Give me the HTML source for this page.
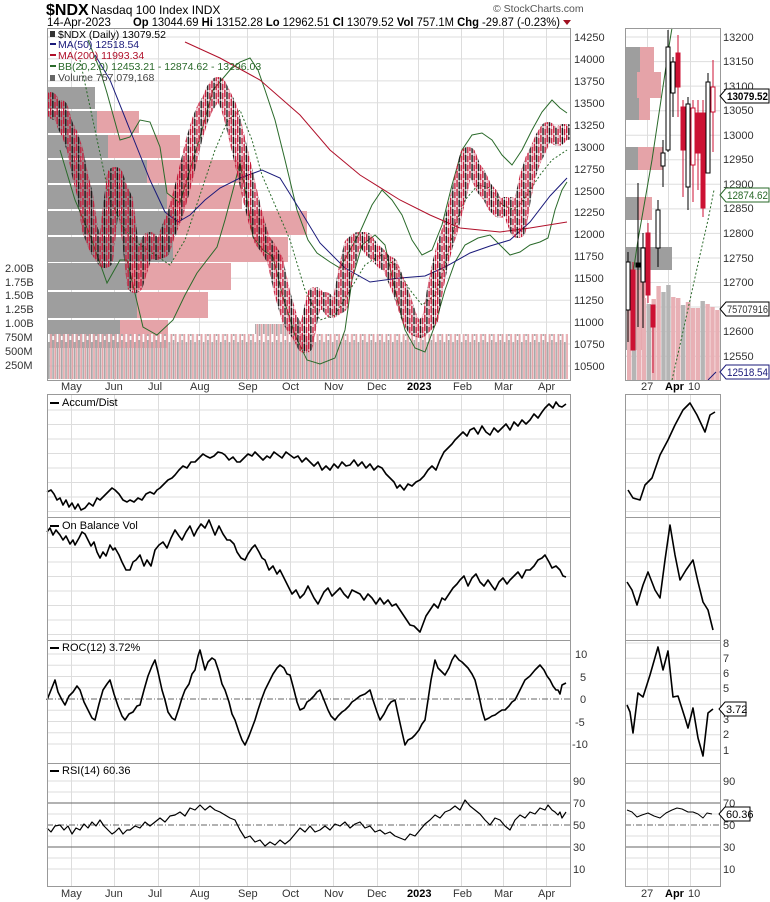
<!DOCTYPE html>
<html><head><meta charset="utf-8">
<style>
html,body{margin:0;padding:0;background:#fff;}
svg{display:block;font-family:"Liberation Sans",sans-serif;}
.ax{font-size:11px;fill:#333;}
.lg{font-size:10.5px;}
</style></head>
<body>
<svg width="770" height="902" viewBox="0 0 770 902" xmlns="http://www.w3.org/2000/svg">
<defs>
<pattern id="vp" patternUnits="userSpaceOnUse" width="4.3" height="10" x="48" y="0">
<rect x="0" y="0" width="1.7" height="10" fill="#a8a8a8"/><rect x="2.15" y="0" width="1.7" height="10" fill="#e5a3a8"/>
</pattern>
<pattern id="vp2" patternUnits="userSpaceOnUse" width="8.6" height="10" x="48" y="0">
<rect x="0" y="0" width="1.7" height="10" fill="#fff"/><rect x="4.3" y="6" width="1.7" height="4" fill="#fff"/>
</pattern>
<pattern id="cp" patternUnits="userSpaceOnUse" width="6.45" height="9" x="50" y="0">
<rect x="0" y="0" width="1.4" height="7" fill="#c41535"/><rect x="0.45" y="0" width="0.5" height="9" fill="#c41535"/>
<rect x="2.15" y="2" width="1.4" height="7" fill="#111"/><rect x="2.6" y="0" width="0.5" height="9" fill="#111"/>
<rect x="4.3" y="3" width="1.4" height="6" fill="#c41535"/><rect x="4.75" y="0" width="0.5" height="9" fill="#c41535"/>
</pattern>
<mask id="pm" maskUnits="userSpaceOnUse" x="0" y="0" width="770" height="902">
<polyline fill="none" stroke="#fff" stroke-width="16" stroke-linejoin="round" stroke-linecap="round" points="50,100 55,112 60,108 65,125 70,135 75,150 80,175 85,195 90,230 97,248 105,260 110,215 115,175 120,190 125,200 130,240 135,285 142,262 150,240 156,252 162,250 168,232 175,215 182,190 188,165 194,140 200,120 205,108 210,100 214,90 218,85 223,95 228,105 232,118 235,130 242,160 250,195 256,220 262,240 268,248 275,260 282,292 290,320 295,328 300,335 305,345 310,318 315,295 320,302 325,300 332,310 340,305 346,272 352,245 358,240 365,240 372,250 378,255 384,262 390,265 395,278 400,290 405,305 410,320 415,328 420,330 425,325 430,320 435,290 440,265 445,245 450,230 455,210 460,190 464,170 468,155 473,168 478,175 484,188 490,195 495,205 500,210 505,205 510,205 514,220 518,230 523,198 528,175 533,160 538,150 543,138 548,130 553,135 558,138 563,132 567,132"/>
</mask>
</defs>
<rect width="770" height="902" fill="#fff"/>
<!-- grids -->
<g stroke="#ddd" stroke-width="1" fill="none">
<path d="M71.5,28V380M114.5,28V380M158.5,28V380M199.5,28V380M247.5,28V380M290.5,28V380M333.5,28V380M377.5,28V380M418.5,28V380M461.5,28V380M503.5,28V380M546.5,28V380M647.5,28V380M668.5,28V380M690.5,28V380"/>
<path d="M71.5,394V887M114.5,394V887M158.5,394V887M199.5,394V887M247.5,394V887M290.5,394V887M333.5,394V887M377.5,394V887M418.5,394V887M461.5,394V887M503.5,394V887M546.5,394V887M647.5,394V887M668.5,394V887M690.5,394V887"/>
<path d="M47,37H570M47,58.9H570M47,80.9H570M47,102.8H570M47,124.7H570M47,146.7H570M47,168.6H570M47,190.5H570M47,212.4H570M47,234.4H570M47,256.3H570M47,278.2H570M47,300.2H570M47,322.1H570M47,344H570M47,366H570"/>
<path d="M625,37H720M625,61.6H720M625,86.1H720M625,110.7H720M625,135.2H720M625,159.8H720M625,184.3H720M625,208.9H720M625,233.4H720M625,258H720M625,282.5H720M625,307H720M625,331.6H720M625,356.2H720"/>
<path d="M47,410H570M47,424.5H570M47,439H570M47,453.5H570M47,468H570M47,482.5H570M47,497H570M47,511.5H570M47,533H570M47,547.5H570M47,562H570M47,576.5H570M47,591H570M47,605.5H570M47,620H570M47,634.5H570"/>
<path d="M625,410H720M625,424.5H720M625,439H720M625,453.5H720M625,468H720M625,482.5H720M625,497H720M625,511.5H720M625,533H720M625,547.5H720M625,562H720M625,576.5H720M625,591H720M625,605.5H720M625,620H720M625,634.5H720"/>
<path d="M47,654H570M47,665.3H570M47,676.5H570M47,687.8H570M47,710.3H570M47,721.5H570M47,732.8H570M47,744H570"/>
<path d="M625,643H720M625,658.3H720M625,673.6H720M625,688.9H720M625,704.2H720M625,719.5H720M625,734.8H720M625,750.1H720"/>
<path d="M47,781H570M47,792H570M47,814H570M47,836H570M47,858H570M47,869H570M625,781H720M625,792H720M625,814H720M625,836H720M625,858H720M625,869H720"/>
</g>
<g stroke="#666" stroke-width="1" fill="none">
<path d="M47,803H570M47,847H570M625,803H720M625,847H720"/>
<path d="M47,825H570M625,825H720M47,699H570" stroke-dasharray="6,2,1,2"/>
</g>
<!-- volume by price -->
<g fill="#e5a3a8">
<rect x="47" y="87" width="48" height="22"/><rect x="47" y="111" width="92" height="22"/><rect x="47" y="135" width="133" height="23"/><rect x="47" y="160" width="198" height="23"/><rect x="47" y="185" width="195" height="24"/><rect x="47" y="211" width="260" height="24"/><rect x="47" y="237" width="241" height="25"/><rect x="47" y="263" width="184" height="27"/><rect x="47" y="292" width="161" height="26"/><rect x="47" y="320" width="121" height="28"/>
<rect x="626" y="47" width="28" height="25"/><rect x="626" y="72" width="35" height="26"/><rect x="626" y="98" width="24" height="22"/><rect x="626" y="147" width="37" height="23"/><rect x="626" y="197" width="26" height="23"/><rect x="626" y="270" width="19" height="80"/>
</g>
<g fill="#9e9e9e">
<rect x="47" y="87" width="48" height="22"/><rect x="47" y="111" width="50" height="22"/><rect x="47" y="135" width="61" height="23"/><rect x="47" y="160" width="100" height="23"/><rect x="47" y="185" width="120" height="24"/><rect x="47" y="211" width="130" height="24"/><rect x="47" y="237" width="126" height="25"/><rect x="47" y="263" width="83" height="27"/><rect x="47" y="292" width="90" height="26"/><rect x="47" y="320" width="73" height="28"/>
<rect x="626" y="47" width="14" height="25"/><rect x="626" y="72" width="11" height="26"/><rect x="626" y="98" width="13" height="22"/><rect x="626" y="147" width="12" height="23"/><rect x="626" y="197" width="12" height="23"/><rect x="626" y="247" width="46" height="23"/><rect x="626" y="270" width="4" height="80"/>
</g>
<!-- volume -->
<rect x="48" y="334" width="520" height="45" fill="url(#vp)"/>
<rect x="48" y="334" width="520" height="8" fill="url(#vp2)"/>
<path d="M255,334h45v-10h-45z" fill="url(#vp)"/>
<g>
<rect x="627" y="295" width="4.4" height="85" fill="#e8b0b5"/><rect x="631.9" y="300" width="4.4" height="80" fill="#b5b5b5"/><rect x="636.8" y="290" width="4.4" height="90" fill="#e8b0b5"/><rect x="641.7" y="298" width="4.4" height="82" fill="#e8b0b5"/><rect x="646.6" y="304" width="4.4" height="76" fill="#b5b5b5"/><rect x="651.5" y="299" width="4.4" height="81" fill="#e8b0b5"/><rect x="656.4" y="286" width="4.4" height="94" fill="#e8b0b5"/><rect x="661.3" y="292" width="4.4" height="88" fill="#b5b5b5"/><rect x="666.2" y="285" width="4.4" height="95" fill="#b5b5b5"/><rect x="671.1" y="297" width="4.4" height="83" fill="#e8b0b5"/><rect x="676" y="298" width="4.4" height="82" fill="#e8b0b5"/><rect x="680.9" y="305" width="4.4" height="75" fill="#b5b5b5"/><rect x="685.8" y="302" width="4.4" height="78" fill="#e8b0b5"/><rect x="690.7" y="308" width="4.4" height="72" fill="#e8b0b5"/><rect x="695.6" y="308" width="4.4" height="72" fill="#e8b0b5"/><rect x="700.5" y="301" width="4.4" height="79" fill="#b5b5b5"/><rect x="705.4" y="304" width="4.4" height="76" fill="#e8b0b5"/><rect x="710.3" y="307" width="4.4" height="73" fill="#e8b0b5"/><rect x="715.2" y="310" width="4.4" height="70" fill="#e8b0b5"/>
</g>
<!-- BB, MAs -->
<g fill="none" stroke-width="1">
<polyline stroke="#2a6a2a" points="88,40 100,70 107,93 120,140 130,137 140,120 150,122 160,147 167,193 180,203 193,160 200,137 213,90 230,70 240,62 250,58 258,70 265,90 275,120 285,160 297,210 308,240 317,253 330,262 340,268 350,250 360,232 372,205 382,190 392,200 402,215 412,240 422,255 432,250 442,225 452,185 462,150 472,135 482,133 492,140 502,155 512,165 522,150 532,130 542,112 552,100 560,108 567,113"/>
<polyline stroke="#2a6a2a" points="60,150 75,200 90,235 107,283 120,260 127,260 143,327 157,335 173,320 185,295 197,273 217,247 225,220 233,190 240,163 247,200 253,237 263,250 273,257 283,297 295,335 307,360 320,364 335,358 345,330 352,280 362,245 375,235 385,245 395,290 405,330 415,348 425,352 435,325 445,290 455,262 465,245 478,238 490,235 500,245 510,255 520,252 530,245 540,242 548,238 555,210 562,190 567,182"/>
<polyline stroke="#2a6a2a" stroke-dasharray="2,2" points="80,60 95,130 110,200 125,230 140,245 155,255 170,265 185,240 200,195 215,150 228,120 240,110 252,140 262,175 275,205 290,240 305,290 320,320 335,315 350,290 365,265 380,255 395,265 410,290 422,305 435,295 445,265 455,225 465,200 478,185 490,188 502,205 515,210 527,195 540,175 552,160 567,150"/>
<polyline stroke="#1a1a7a" points="95,55 110,80 130,130 150,180 165,212 178,222 190,215 205,200 220,188 240,178 262,170 280,178 300,210 320,243 345,268 370,282 400,278 425,276 445,267 470,253 490,246 510,240 530,222 550,196 567,178"/>
<polyline stroke="#b0102a" points="185,42 220,58 260,80 300,115 330,150 360,175 400,200 430,215 460,228 500,232 530,228 567,222"/>
</g>
<!-- price candles (texture) -->
<rect x="47" y="60" width="523" height="300" fill="url(#cp)" mask="url(#pm)"/>
<!-- right BB / MA -->
<g fill="none" stroke-width="1">
<polyline stroke="#2a6a2a" points="628,310 632,280 638,240 645,200 652,160 658,120 664,80 670,40 672,28"/>
<polyline stroke="#2a6a2a" stroke-dasharray="2,2" points="672,380 680,345 690,300 700,255 708,220 714,190"/>
<polyline stroke="#1a1a7a" points="708,380 716,372"/>
</g>
<!-- right candles -->
<g stroke-width="1">
<g stroke="#000"><line x1="628" x2="628" y1="252" y2="342"/><line x1="638" x2="638" y1="183" y2="327"/><line x1="643" x2="643" y1="233" y2="328"/><line x1="658" x2="658" y1="200" y2="267"/><line x1="663" x2="663" y1="140" y2="187"/><line x1="668" x2="668" y1="30" y2="152"/><line x1="673" x2="673" y1="57" y2="117"/><line x1="688" x2="688" y1="97" y2="210"/><line x1="708" x2="708" y1="73" y2="173"/></g>
<g stroke="#cc1133"><line x1="633" x2="633" y1="262" y2="350"/><line x1="648" x2="648" y1="223" y2="303"/><line x1="653" x2="653" y1="305" y2="373"/><line x1="678" x2="678" y1="35" y2="117"/><line x1="683" x2="683" y1="100" y2="197"/><line x1="693" x2="693" y1="100" y2="202"/><line x1="698" x2="698" y1="100" y2="190"/><line x1="703" x2="703" y1="100" y2="217"/><line x1="713" x2="713" y1="60" y2="152"/></g>
<g fill="#fff" stroke="#000"><rect x="626" y="262" width="4" height="48"/><rect x="641" y="248" width="4" height="34"/><rect x="656" y="210" width="4" height="38"/><rect x="661" y="153" width="4" height="13"/><rect x="666" y="47" width="4" height="103"/><rect x="671" y="62" width="4" height="31"/><rect x="686" y="104" width="4" height="83"/><rect x="706" y="82" width="4" height="91"/></g>
<rect x="636" y="263" width="4" height="4" fill="#000" stroke="#000"/>
<g fill="#cc1133" stroke="#cc1133"><rect x="631" y="270" width="4" height="80"/><rect x="646" y="233" width="4" height="62"/><rect x="651" y="305" width="4" height="22"/><rect x="676" y="53" width="4" height="34"/><rect x="681" y="107" width="4" height="43"/><rect x="696" y="113" width="4" height="40"/><rect x="701" y="113" width="4" height="95"/></g>
<g fill="#fff" stroke="#cc1133"><rect x="691" y="108" width="4" height="57"/><rect x="711" y="87" width="4" height="25"/></g>
</g>
<!-- indicator lines main -->
<g fill="none" stroke="#000" stroke-linejoin="round">
<polyline stroke-width="1.6" points="47,492 51,490 54,494 57,500 60,498 63,505 66,500 69,507 72,503 75,509 78,504 81,510 85,508 89,503 93,506 97,498 100,500 104,496 108,492 112,488 115,490 119,494 123,500 127,502 130,500 134,502 138,498 142,500 146,494 150,492 154,494 157,490 160,488 164,484 168,480 172,478 175,475 179,470 183,466 187,468 191,462 195,462 199,458 203,454 206,456 210,458 214,456 218,452 222,453 225,455 229,460 233,457 237,462 240,462 244,458 248,454 252,456 255,452 259,456 263,460 267,456 270,458 274,452 278,455 282,458 286,452 290,455 294,458 298,456 302,462 306,458 310,462 314,466 318,462 322,470 326,466 330,470 334,464 338,468 342,462 346,466 350,465 354,460 358,466 362,462 366,468 370,464 374,470 378,466 382,468 386,474 390,478 394,482 397,488 400,485 404,490 408,484 412,486 416,482 420,480 424,476 428,470 432,466 436,470 440,460 444,452 448,448 452,444 455,440 459,436 463,432 467,436 470,430 474,428 478,434 482,426 486,432 490,435 494,428 498,432 502,428 506,424 510,430 514,422 518,426 522,420 526,424 530,420 534,414 538,418 542,412 545,408 549,404 553,408 556,402 559,406 562,407 566,404"/>
<polyline stroke-width="1.6" points="47,532 50,528 53,535 56,530 60,535 63,540 66,536 70,544 73,540 75,545 79,538 82,532 85,534 88,540 91,546 94,542 97,552 100,558 103,552 106,556 110,545 113,550 115,548 119,555 122,562 126,570 130,570 133,562 136,560 140,555 144,566 147,560 151,566 155,550 159,545 163,542 167,548 171,538 175,530 179,536 182,540 186,532 190,526 194,536 197,530 201,524 205,528 209,520 213,530 215,535 219,526 223,534 227,540 230,540 234,544 237,552 241,558 245,560 248,554 252,548 255,545 259,552 262,558 265,560 269,570 273,566 277,574 280,570 284,578 288,586 292,594 296,590 300,598 304,594 308,586 310,590 314,598 318,604 320,600 324,592 328,588 332,596 336,592 340,588 344,594 348,598 352,590 356,592 360,594 364,600 368,594 372,598 376,604 380,598 384,604 388,600 392,606 396,604 400,610 404,616 408,622 410,625 414,626 418,630 420,632 423,624 426,616 430,610 434,604 438,608 442,598 445,600 449,594 453,588 457,584 460,580 464,576 468,586 472,578 476,574 480,582 484,586 488,580 492,586 495,590 499,582 503,578 507,584 510,580 514,576 518,572 522,578 526,570 530,570 534,566 538,560 542,558 545,555 549,562 552,568 556,566 560,570 563,576 566,577"/>
<polyline stroke-width="1.6" points="47,700 51,690 55,680 58,692 62,700 65,705 69,696 73,692 77,686 80,690 84,702 88,710 92,718 95,720 99,704 103,690 107,684 110,680 114,694 118,706 122,716 125,720 129,714 133,712 137,706 140,705 144,690 148,676 152,666 155,660 158,672 162,690 165,700 168,712 172,718 175,720 179,708 182,698 185,690 189,684 192,674 195,670 198,656 200,650 203,662 205,670 208,662 212,658 215,660 219,672 222,684 225,690 229,702 232,714 235,720 239,732 242,740 245,745 249,736 252,728 255,720 258,710 262,698 265,690 269,682 273,674 277,668 280,665 284,668 287,674 290,675 294,690 297,702 300,710 304,708 307,702 310,700 314,696 317,692 320,690 324,700 328,710 331,716 335,720 338,716 342,712 345,710 349,706 352,702 355,700 360,696 365,694 370,690 373,700 377,712 380,720 384,714 388,706 391,702 395,700 398,714 402,732 405,745 408,740 412,738 415,735 419,730 422,724 425,720 428,700 431,680 435,660 438,668 442,672 445,675 449,668 452,660 455,655 459,660 462,662 465,665 468,668 472,674 475,680 479,696 482,710 485,720 489,718 492,716 495,715 499,712 502,710 505,710 509,706 512,702 515,700 519,692 522,686 525,680 530,676 535,670 540,665 544,670 547,676 550,680 553,686 556,690 558,690 560,694 562,685 566,683"/>
<polyline stroke-width="1.2" points="47,828 51,832 55,826 60,825 64,830 68,826 72,834 76,828 80,830 84,824 88,828 92,822 96,826 100,820 104,826 108,830 112,834 115,832 119,828 123,834 127,830 130,830 135,826 140,828 145,822 150,826 155,822 160,818 165,822 170,816 175,815 180,812 185,816 190,808 195,810 200,805 205,810 210,806 215,810 220,812 225,815 230,818 235,820 240,830 245,838 250,836 255,842 260,840 265,846 270,842 275,845 280,840 285,844 290,840 295,834 300,828 305,832 310,826 315,832 320,830 325,826 330,830 335,824 340,826 345,822 350,828 355,824 360,822 365,828 370,826 375,832 380,830 385,834 390,832 395,836 400,838 405,840 410,834 415,836 420,830 425,824 430,820 435,815 440,818 445,812 450,810 455,806 460,810 465,800 470,806 475,810 480,814 485,820 490,825 495,818 500,820 505,826 510,830 515,820 520,815 525,818 530,812 535,814 540,808 545,810 548,805 552,810 555,812 558,815 560,812 562,818 566,812"/>
</g>
<!-- right indicator lines -->
<g fill="none" stroke="#000" stroke-linejoin="round">
<polyline stroke-width="1.6" points="628,490 633,498 640,500 645,485 652,478 660,455 668,440 675,425 683,410 690,403 697,415 705,432 710,415 715,412"/>
<polyline stroke-width="1.6" points="627,582 632,590 637,605 643,585 648,572 655,590 660,598 665,560 670,525 675,555 680,580 686,570 693,560 698,582 703,602 708,610 713,630"/>
<polyline stroke-width="1.6" points="627,705 630,712 633,733 638,693 643,697 650,675 658,647 663,670 668,651 673,697 678,696 685,718 688,728 693,708 698,738 703,756 708,713 713,709"/>
<polyline stroke-width="1" points="627,810 632,812 637,817 642,815 648,813 654,816 660,818 666,813 672,810 677,808 682,809 688,812 693,812 698,814 703,818 707,813 712,814"/>
</g>
<!-- frames -->
<g fill="none" stroke="#999" stroke-width="1">
<rect x="47.5" y="28.5" width="523" height="352"/>
<rect x="47.5" y="394.5" width="523" height="123"/>
<rect x="47.5" y="517.5" width="523" height="123"/>
<rect x="47.5" y="640.5" width="523" height="123"/>
<rect x="47.5" y="763.5" width="523" height="123"/>
<rect x="625.5" y="28.5" width="95" height="352"/>
<rect x="625.5" y="394.5" width="95" height="123"/>
<rect x="625.5" y="517.5" width="95" height="123"/>
<rect x="625.5" y="640.5" width="95" height="123"/>
<rect x="625.5" y="763.5" width="95" height="123"/>
</g>
<!-- header -->
<text x="46" y="15" font-size="16" font-weight="bold" fill="#000">$NDX</text>
<text x="91" y="14" font-size="12" fill="#000">Nasdaq 100 Index  INDX</text>
<text x="493" y="12" font-size="10.5" fill="#555">© StockCharts.com</text>
<text x="47" y="26" font-size="11.5" fill="#000">14-Apr-2023</text>
<text x="133" y="26" font-size="11.5" fill="#000" textLength="427" lengthAdjust="spacingAndGlyphs"><tspan font-weight="bold">Op</tspan> 13044.69  <tspan font-weight="bold">Hi</tspan> 13152.28  <tspan font-weight="bold">Lo</tspan> 12962.51  <tspan font-weight="bold">Cl</tspan> 13079.52  <tspan font-weight="bold">Vol</tspan> 757.1M  <tspan font-weight="bold">Chg</tspan> -29.87 (-0.23%)</text>
<polygon points="563,20 571,20 567,25" fill="#a01020"/>
<!-- legend -->
<g class="lg">
<rect x="50" y="31" width="5" height="6" fill="#333"/><text x="58" y="38" fill="#000">$NDX (Daily) 13079.52</text>
<rect x="50" y="43" width="6" height="2" fill="#1a1a7a"/><text x="58" y="48" fill="#1a1a7a">MA(50) 12518.54</text>
<rect x="50" y="54" width="6" height="2" fill="#b0102a"/><text x="58" y="59" fill="#b0102a">MA(200) 11993.34</text>
<rect x="50" y="65" width="6" height="2" fill="#2a6a2a"/><text x="58" y="70" fill="#2a6a2a">BB(20,2.0) 12453.21 - 12874.62 - 13296.03</text>
<rect x="50" y="75" width="5" height="6" fill="#666"/><text x="58" y="81" fill="#444">Volume 757,079,168</text>
<rect x="50" y="402" width="9" height="2" fill="#000"/><text x="62" y="406" fill="#000" font-size="11">Accum/Dist</text>
<rect x="50" y="525" width="9" height="2" fill="#000"/><text x="62" y="529" fill="#000" font-size="11">On Balance Vol</text>
<rect x="50" y="647" width="9" height="2" fill="#000"/><text x="62" y="651" fill="#000" font-size="11">ROC(12) 3.72%</text>
<rect x="50" y="770" width="9" height="2" fill="#000"/><text x="62" y="774" fill="#000" font-size="11">RSI(14) 60.36</text>
</g>
<!-- main price axis -->
<g class="ax">
<text x="574" y="41">14250</text><text x="574" y="63">14000</text><text x="574" y="85">13750</text><text x="574" y="107">13500</text><text x="574" y="129">13250</text><text x="574" y="151">13000</text><text x="574" y="173">12750</text><text x="574" y="195">12500</text><text x="574" y="216">12250</text><text x="574" y="238">12000</text><text x="574" y="260">11750</text><text x="574" y="282">11500</text><text x="574" y="304">11250</text><text x="574" y="326">11000</text><text x="574" y="348">10750</text><text x="574" y="370">10500</text>
</g>
<g class="ax">
<text x="5" y="272">2.00B</text><text x="5" y="286">1.75B</text><text x="5" y="299">1.50B</text><text x="5" y="313">1.25B</text><text x="5" y="327">1.00B</text><text x="5" y="341">750M</text><text x="5" y="355">500M</text><text x="5" y="369">250M</text>
</g>
<!-- date labels -->
<g class="ax">
<text x="61" y="390">May</text><text x="105" y="390">Jun</text><text x="148" y="390">Jul</text><text x="190" y="390">Aug</text><text x="238" y="390">Sep</text><text x="282" y="390">Oct</text><text x="324" y="390">Nov</text><text x="367" y="390">Dec</text><text x="407" y="390" font-weight="bold" fill="#000">2023</text><text x="453" y="390">Feb</text><text x="494" y="390">Mar</text><text x="538" y="390">Apr</text>
<text x="641" y="390">27</text><text x="665" y="390" font-weight="bold" fill="#000">Apr</text><text x="688" y="390">10</text>
<text x="61" y="897">May</text><text x="105" y="897">Jun</text><text x="148" y="897">Jul</text><text x="190" y="897">Aug</text><text x="238" y="897">Sep</text><text x="282" y="897">Oct</text><text x="324" y="897">Nov</text><text x="367" y="897">Dec</text><text x="407" y="897" font-weight="bold" fill="#000">2023</text><text x="453" y="897">Feb</text><text x="494" y="897">Mar</text><text x="538" y="897">Apr</text>
<text x="641" y="897">27</text><text x="665" y="897" font-weight="bold" fill="#000">Apr</text><text x="688" y="897">10</text>
</g>
<!-- right small price axis -->
<g class="ax">
<text x="723" y="41">13200</text><text x="723" y="65">13150</text><text x="723" y="90">13100</text><text x="723" y="114">13050</text><text x="723" y="139">13000</text><text x="723" y="163">12950</text><text x="723" y="188">12900</text><text x="723" y="212">12850</text><text x="723" y="237">12800</text><text x="723" y="262">12750</text><text x="723" y="286">12700</text><text x="723" y="335">12600</text><text x="723" y="360">12550</text>
</g>
<g font-size="11">
<polygon points="720,96 726,89 769,89 769,103 726,103" fill="#fff" stroke="#000"/><text x="727" y="100" font-weight="bold" fill="#000" textLength="41" lengthAdjust="spacingAndGlyphs">13079.52</text>
<polygon points="720,195 726,188 769,188 769,202 726,202" fill="#fff" stroke="#2a6a2a"/><text x="727" y="199" fill="#2a6a2a" textLength="41" lengthAdjust="spacingAndGlyphs">12874.62</text>
<polygon points="720,309 726,302 769,302 769,316 726,316" fill="#fff" stroke="#000"/><text x="727" y="313" fill="#333" textLength="41" lengthAdjust="spacingAndGlyphs">75707916</text>
<polygon points="720,372 726,365 769,365 769,379 726,379" fill="#fff" stroke="#1a1a7a"/><text x="727" y="376" fill="#1a1a7a" textLength="41" lengthAdjust="spacingAndGlyphs">12518.54</text>
</g>
<!-- ROC / RSI axes -->
<g class="ax">
<text x="575" y="658">10</text><text x="580" y="681">5</text><text x="580" y="703">0</text><text x="575" y="726">-5</text><text x="572" y="748">-10</text>
<text x="723" y="647">8</text><text x="723" y="662">7</text><text x="723" y="677">6</text><text x="723" y="692">5</text><text x="723" y="723">3</text><text x="723" y="738">2</text><text x="723" y="754">1</text>
<polygon points="719,709 725,702 746,702 746,716 725,716" fill="#fff" stroke="#000"/><text x="726" y="713" fill="#000">3.72</text>
<text x="573" y="785">90</text><text x="573" y="807">70</text><text x="573" y="829">50</text><text x="573" y="851">30</text><text x="573" y="873">10</text>
<text x="723" y="785">90</text><text x="723" y="807">70</text><text x="723" y="829">50</text><text x="723" y="851">30</text><text x="723" y="873">10</text>
<polygon points="719,814 725,807 750,807 750,821 725,821" fill="#fff" stroke="#000"/><text x="726" y="818" fill="#000">60.36</text>
</g>
</svg>
</body></html>
